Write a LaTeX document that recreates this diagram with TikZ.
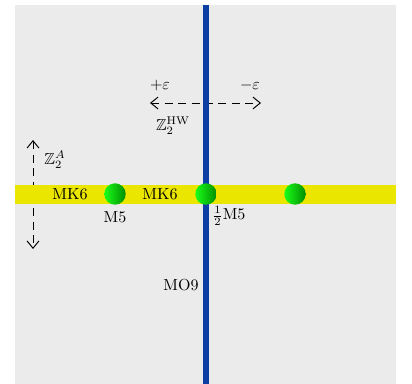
\documentclass[tikz,border=0pt]{standalone}
\usetikzlibrary{arrows.meta,positioning}
\usepackage{amsmath}
\usepackage{amssymb}

\definecolor{bggray}{RGB}{235,235,235}
\definecolor{o9blue}{RGB}{12,62,164}
\definecolor{k6yellow}{RGB}{234,230,0}

\begin{document}
\begin{tikzpicture}[
    x=0.625pt, y=-0.625pt,
    every node/.style={font=\normalsize, inner sep=1pt},
    brane/.style={circle, inner sep=0pt, minimum size=13.4pt, shading=axis, left color=green!90!white, right color=green!55!black, shading angle=90},
    displace/.style={{Straight Barb[length=1.6mm, width=2.6mm]}-{Straight Barb[length=1.6mm, width=2.6mm]}, line width=0.6pt, dash pattern=on 5pt off 3.4pt}
]
\useasboundingbox (0,0) rectangle (412,384);
\fill[bggray] (15,5) rectangle (396,384);
% horizontal shift arrow
\coordinate (hl) at (150,103);
\coordinate (hr) at (261,103);
\draw[displace] (hl) -- (hr);
% vertical shift arrow
\coordinate (vt) at (33,140);
\coordinate (vb) at (33,249);
\draw[displace] (vt) -- (vb);
% MK6 band and MO9 plane
\fill[k6yellow] (15,185) rectangle (396,204);
\fill[o9blue] (203,5) rectangle (209,384);
\node[brane] (m5a) at (115,194) {};
\node[brane] (m5b) at (206,194) {};
\node[brane] (m5c) at (295,194) {};
\node (mkl) at (70,194) {MK6};
\node (mkm) at (160,194) {MK6};
\node (m5lab) at (115,217) {M5};
\node (hm5lab) at (229,216) {$\frac{1}{2}$M5};
\node (o9lab) at (181,285) {MO9};
\node (pe) at (160,86) {$+\varepsilon$};
\node (me) at (250,86) {$-\varepsilon$};
\node (zhw) at (173,126) {$\mathbb{Z}_2^{\mathrm{HW}}$};
\node (za) at (55,160) {$\mathbb{Z}_2^{A}$};
\end{tikzpicture}
\end{document}
